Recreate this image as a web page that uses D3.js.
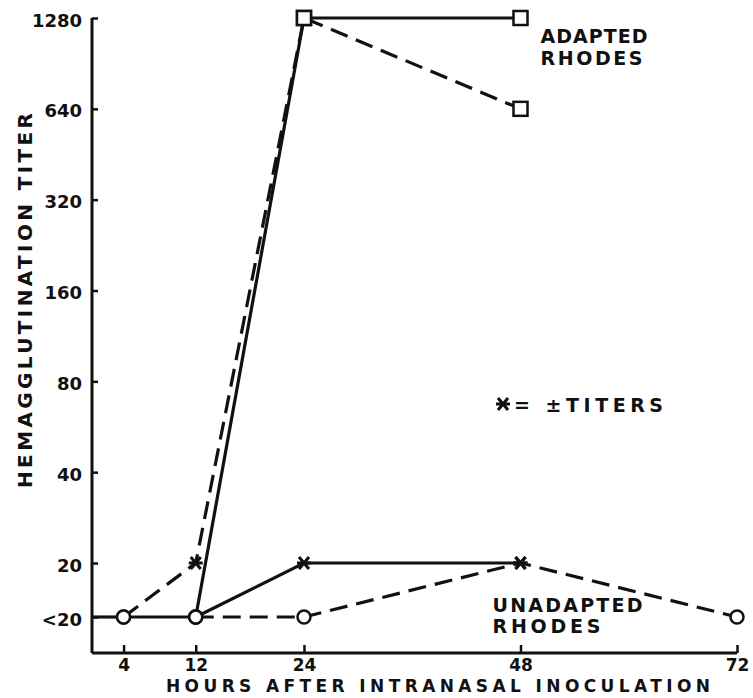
<!DOCTYPE html>
<html lang="en">
  <head>
    <meta charset="utf-8">
    <title>Hemagglutination titer</title>
    <script src="https://d3js.org/d3.v7.min.js"></script>
    <style>
      body { margin: 0; background: white; }
      text { font-family: "DejaVu Sans", sans-serif; font-weight: bold; fill: #111; }
      .tick line { stroke: #111; stroke-width: 2.5; }
    </style>
  </head>
  <body>
    <svg width="753" height="698"></svg>
    <script>
      // "<20" has no number of its own, so it sits on a placeholder level below 20
      var BELOW = 10;

      var xTicks = [4, 12, 24, 48, 72];
      var yTicks = [BELOW, 20, 40, 80, 160, 320, 640, 1280];
      var yTickLabels = ["<20", "20", "40", "80", "160", "320", "640", "1280"];

      // each point: hour, titer, marker (o = negative, x = +/- titer, s = positive)
      var adaptedSolidHours = [4, 12, 24, 48];
      var adaptedSolidTiters = [BELOW, BELOW, 1280, 1280];
      var adaptedSolidMarks = ["o", "o", "s", "s"];

      var adaptedDashedHours = [4, 12, 24, 48];
      var adaptedDashedTiters = [BELOW, 20, 1280, 640];
      var adaptedDashedMarks = ["o", "x", "s", "s"];

      var unadaptedSolidHours = [12, 24, 48];
      var unadaptedSolidTiters = [BELOW, 20, 20];
      var unadaptedSolidMarks = ["o", "x", "x"];

      var unadaptedDashedHours = [12, 24, 48, 72];
      var unadaptedDashedTiters = [BELOW, BELOW, 20, BELOW];
      var unadaptedDashedMarks = ["o", "o", "x", "o"];

      var leadInHours = [0.5, 4];
      var leadInTiters = [BELOW, BELOW];

      var svg = d3.select("svg");
      var x = d3.scaleLinear().domain([0.5, 72]).range([92, 737]);
      var y = d3.scaleLog().domain([BELOW, 20, 1280]).range([617, 563, 18]);
      var axisY = 653;

      function series(h, t, m, dashed) {
        return { dashed: dashed, pts: h.map(function(d, i) {
          return { h: d, t: t[i], m: m ? m[i] : null };
        }) };
      }
      var all = [
        series(leadInHours, leadInTiters, null, false),
        series(adaptedSolidHours, adaptedSolidTiters, adaptedSolidMarks, false),
        series(adaptedDashedHours, adaptedDashedTiters, adaptedDashedMarks, true),
        series(unadaptedSolidHours, unadaptedSolidTiters, unadaptedSolidMarks, false),
        series(unadaptedDashedHours, unadaptedDashedTiters, unadaptedDashedMarks, true)
      ];

      // axes
      svg.append("line").attr("x1", x.range()[0]).attr("x2", x.range()[0])
        .attr("y1", y(1280)).attr("y2", axisY)
        .attr("stroke", "#111").attr("stroke-width", 3);
      svg.append("line").attr("x1", x.range()[0]).attr("x2", x(72))
        .attr("y1", axisY).attr("y2", axisY)
        .attr("stroke", "#111").attr("stroke-width", 3);

      var gy = svg.append("g").attr("transform", "translate(" + x.range()[0] + ",0)")
        .call(d3.axisLeft(y).tickValues(yTicks).tickSize(-6).tickPadding(10)
          .tickFormat(function(d, i) { return yTickLabels[i]; }));
      gy.select(".domain").remove();
      gy.selectAll("text").attr("font-size", 18).attr("dy", "0.45em");

      var gx = svg.append("g").attr("transform", "translate(0," + axisY + ")")
        .call(d3.axisBottom(x).tickValues(xTicks).tickSize(-8).tickPadding(6));
      gx.select(".domain").remove();
      gx.selectAll("text").attr("font-size", 17);
      svg.selectAll(".tick text").attr("fill", "#111");

      // lines
      var line = d3.line().x(function(d) { return x(d.h); }).y(function(d) { return y(d.t); });
      svg.append("g").selectAll("path").data(all).enter().append("path")
        .attr("d", function(d) { return line(d.pts); })
        .attr("fill", "none").attr("stroke", "#111").attr("stroke-width", 3.2)
        .attr("stroke-dasharray", function(d) { return d.dashed ? "18,9" : null; });

      // markers
      var pts = [];
      all.forEach(function(s) { s.pts.forEach(function(p) { if (p.m) pts.push(p); }); });
      var star = "M-7,0L7,0M-5,-6L5,6M-5,6L5,-6";
      function drawMark(g, m) {
        if (m == "o") {
          g.append("circle").attr("r", 6.5).attr("fill", "white")
            .attr("stroke", "#111").attr("stroke-width", 2.5);
        } else if (m == "s") {
          g.append("rect").attr("x", -7).attr("y", -7).attr("width", 14).attr("height", 14)
            .attr("fill", "white").attr("stroke", "#111").attr("stroke-width", 2.5);
        } else {
          g.append("path").attr("d", star).attr("stroke", "#111").attr("stroke-width", 3);
        }
      }
      svg.append("g").selectAll("g").data(pts).enter().append("g")
        .attr("transform", function(d) { return "translate(" + x(d.h) + "," + y(d.t) + ")"; })
        .each(function(d) { drawMark(d3.select(this), d.m); });

      // titles
      svg.append("text").attr("x", 166).attr("y", 692).attr("font-size", 17)
        .attr("textLength", 544).attr("lengthAdjust", "spacing")
        .text("HOURS AFTER INTRANASAL INOCULATION");
      svg.append("text").attr("transform", "translate(32,488) rotate(-90)")
        .attr("font-size", 20).attr("textLength", 375).attr("lengthAdjust", "spacing")
        .text("HEMAGGLUTINATION TITER");

      // annotations
      function note(px, py, len, str) {
        svg.append("text").attr("x", px).attr("y", py).attr("font-size", 19)
          .attr("textLength", len).attr("lengthAdjust", "spacing").text(str);
      }
      note(x(48) + 20, y(1280) + 25, 107, "ADAPTED");
      note(x(48) + 20, y(1280) + 47, 102, "RHODES");
      note(x(48) - 28, y(20) + 49, 150, "UNADAPTED");
      note(x(48) - 28, y(20) + 70, 108, "RHODES");

      var key = svg.append("g").attr("transform", "translate(503,404)");
      drawMark(key, "x");
      svg.append("text").attr("x", 514).attr("y", 412).attr("font-size", 19)
        .attr("textLength", 149).attr("lengthAdjust", "spacing").text("= \u00b1TITERS");
    </script>
  </body>
</html>
